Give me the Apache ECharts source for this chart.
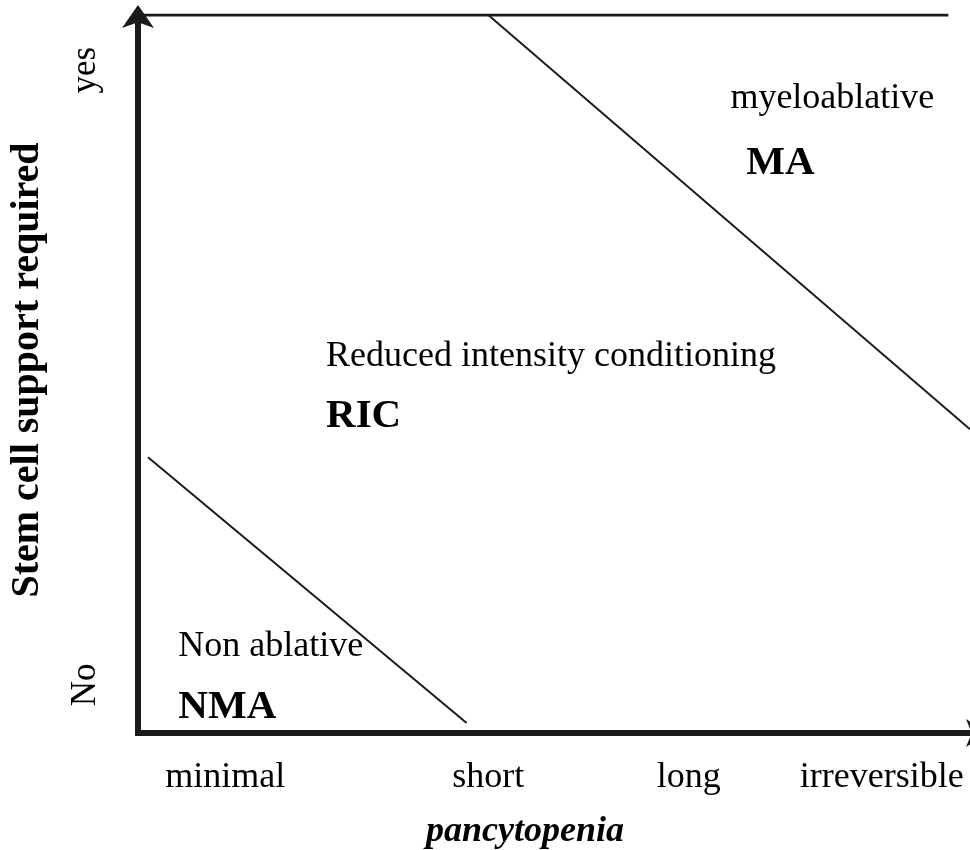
<!DOCTYPE html>
<html>
<head>
<meta charset="utf-8">
<script src="https://cdn.jsdelivr.net/npm/echarts@6/dist/echarts.min.js"></script>
<style>html,body{margin:0;padding:0;background:#fff;}#chart{width:970px;height:850px;}</style>
</head>
<body>
<div id="chart"></div>
<script>
// ---- data ----
const xTickLabels = ['minimal', 'short', 'long', 'irreversible'];
const xTickValues = [10.5, 42.1, 66.2, 89.4];
const yTickLabels = ['No', 'yes'];
const yTickValues = [6.7, 92.3];
const xAxisTitle = 'pancytopenia';
const yAxisTitle = 'Stem cell support required';
const topEdge = [[0.6, 100], [97.4, 100]];
const boundaryMA = [[42.1, 100], [100, 42.3]];
const boundaryNMA = [[1.2, 38.4], [39.5, 1.4]];
const regionNames = ['myeloablative', 'Reduced intensity conditioning', 'Non ablative'];
const regionNamePos = [[71.2, 88.3], [22.6, 52.4], [4.85, 12.05]];
const regionCodes = ['MA', 'RIC', 'NMA'];
const regionCodePos = [[73.1, 79.4], [22.6, 44.1], [4.85, 3.5]];

const FONT = 'Liberation Serif';
const INK = '#1b1b1b';
const TEXT = '#000';

const chart = echarts.init(document.getElementById('chart'));

function textPoints(names, pos) {
  return names.map((n, i) => ({ name: n, value: pos[i] }));
}

chart.setOption({
  backgroundColor: '#ffffff',
  animation: false,
  grid: { left: 138, right: 0, top: 15, bottom: 117, containLabel: false, outerBoundsMode: 'none' },
  xAxis: {
    type: 'value', min: 0, max: 100,
    splitLine: { show: false },
    axisTick: { show: false },
    axisLine: {
      show: true, onZero: false,
      symbol: ['none', 'arrow'], symbolSize: [21, 23], symbolOffset: [0, 19],
      lineStyle: { color: INK, width: 6, cap: 'square' }
    },
    axisLabel: {
      customValues: xTickValues,
      formatter: v => xTickLabels[xTickValues.indexOf(v)] || '',
      fontFamily: FONT, fontSize: 36, color: TEXT, margin: 27
    },
    name: xAxisTitle, nameLocation: 'middle', nameGap: 81,
    nameTextStyle: { fontFamily: FONT, fontSize: 36, fontWeight: 'bold', fontStyle: 'italic', color: TEXT, padding: [0, 58, 0, 0] }
  },
  yAxis: {
    type: 'value', min: 0, max: 100,
    splitLine: { show: false },
    axisTick: { show: false },
    axisLine: {
      show: true, onZero: false,
      symbol: ['none', 'arrow'], symbolSize: [24, 23], symbolOffset: [0, 10],
      lineStyle: { color: INK, width: 6, cap: 'square' }
    },
    axisLabel: {
      customValues: yTickValues,
      formatter: v => yTickLabels[yTickValues.indexOf(v)] || '',
      rotate: 90,
      fontFamily: FONT, fontSize: 35, color: TEXT, margin: 35
    },
    name: yAxisTitle, nameLocation: 'middle', nameGap: 90, nameRotate: 90,
    nameTextStyle: { fontFamily: FONT, fontSize: 40, fontWeight: 'bold', color: TEXT, padding: [0, 0, 0, 8] }
  },
  series: [
    { type: 'line', data: topEdge, symbol: 'none', lineStyle: { color: INK, width: 3 }, silent: true },
    { type: 'line', data: boundaryMA, symbol: 'none', lineStyle: { color: INK, width: 2 }, silent: true },
    { type: 'line', data: boundaryNMA, symbol: 'none', lineStyle: { color: INK, width: 2 }, silent: true },
    {
      type: 'scatter', symbolSize: 0, silent: true, itemStyle: { opacity: 1 },
      data: textPoints(regionNames, regionNamePos),
      label: { show: true, position: 'right', distance: 0, formatter: p => p.name, opacity: 1,
        fontFamily: FONT, fontSize: 36, color: TEXT }
    },
    {
      type: 'scatter', symbolSize: 0, silent: true, itemStyle: { opacity: 1 },
      data: textPoints(regionCodes, regionCodePos),
      label: { show: true, position: 'right', distance: 0, formatter: p => p.name, opacity: 1,
        fontFamily: FONT, fontSize: 41, fontWeight: 'bold', color: TEXT }
    }
  ]
});
</script>
</body>
</html>
